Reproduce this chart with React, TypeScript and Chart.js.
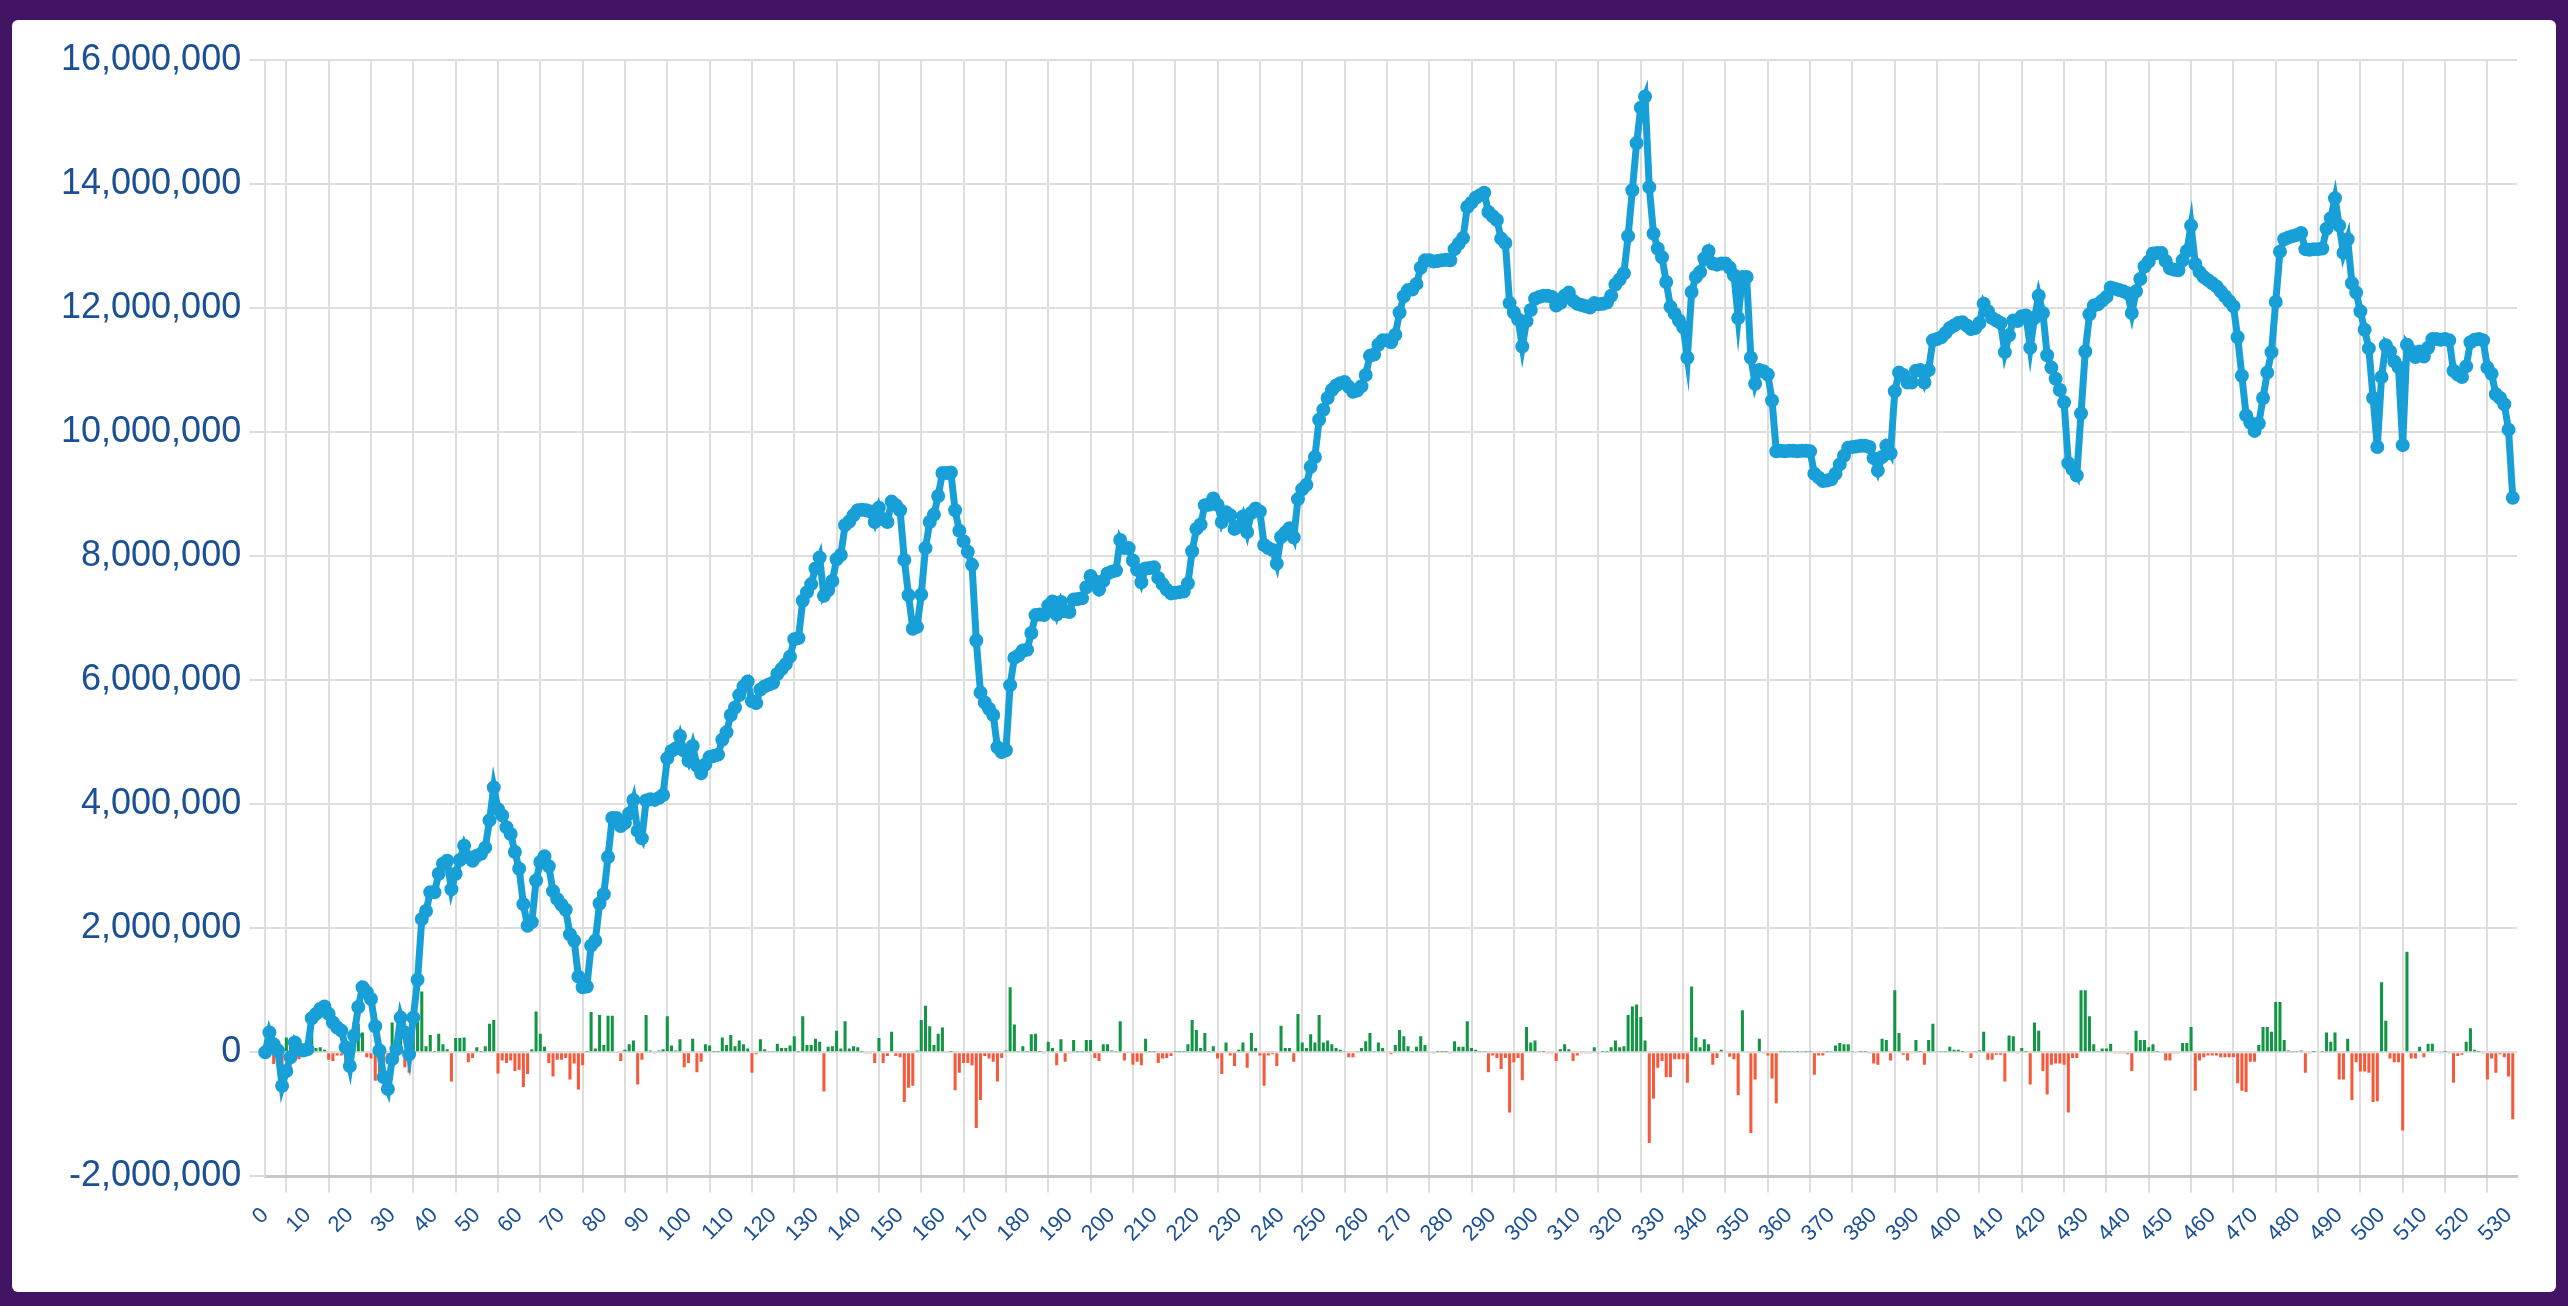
import { useEffect, useRef } from "react";
import { Chart, registerables } from "chart.js";

Chart.register(...registerables);

const PURPLE = "#421464";
const LINE_BLUE = "#189fd7";
const UP_GREEN = "#129646";
const DOWN_RED = "#f55a3c";
const TEXT_BLUE = "#1b5095";
const GRID = "#dedede";
const FONT = "'Liberation Sans', Arial, sans-serif";

// day index on the x axis (the last one has no data yet)
const days = Array.from({ length: 533 }, (_, i) => String(i));

// running balance
const balance = [
  0, 0.32e6, 0.13e6, 0.03e6, -0.54e6, -0.3e6, -0.08e6, 0.16e6, 0.05e6, 0.03e6,
  0.05e6, 0.55e6, 0.62e6, 0.7e6, 0.74e6, 0.62e6, 0.48e6, 0.4e6, 0.35e6, 0.08e6,
  -0.22e6, 0.27e6, 0.73e6, 1.05e6, 0.97e6, 0.86e6, 0.42e6, 0.03e6, -0.4e6, -0.59e6,
  -0.11e6, 0.05e6, 0.56e6, 0.32e6, -0.03e6, 0.56e6, 1.17e6, 2.15e6, 2.28e6, 2.58e6,
  2.58e6, 2.88e6, 3.04e6, 3.09e6, 2.63e6, 2.88e6, 3.1e6, 3.33e6, 3.15e6, 3.09e6,
  3.17e6, 3.2e6, 3.3e6, 3.74e6, 4.27e6, 3.92e6, 3.82e6, 3.63e6, 3.52e6, 3.23e6,
  2.96e6, 2.39e6, 2.04e6, 2.1e6, 2.77e6, 3.07e6, 3.16e6, 3.0e6, 2.6e6, 2.47e6,
  2.38e6, 2.3e6, 1.9e6, 1.8e6, 1.22e6, 1.05e6, 1.06e6, 1.72e6, 1.8e6, 2.4e6,
  2.55e6, 3.15e6, 3.78e6, 3.78e6, 3.65e6, 3.7e6, 3.85e6, 4.07e6, 3.57e6, 3.45e6,
  4.06e6, 4.08e6, 4.07e6, 4.1e6, 4.15e6, 4.74e6, 4.86e6, 4.9e6, 5.1e6, 4.86e6,
  4.7e6, 4.94e6, 4.62e6, 4.5e6, 4.64e6, 4.76e6, 4.78e6, 4.8e6, 5.04e6, 5.16e6,
  5.44e6, 5.56e6, 5.76e6, 5.9e6, 5.98e6, 5.66e6, 5.63e6, 5.85e6, 5.9e6, 5.93e6,
  5.96e6, 6.1e6, 6.18e6, 6.26e6, 6.38e6, 6.66e6, 6.68e6, 7.28e6, 7.42e6, 7.55e6,
  7.8e6, 7.98e6, 7.36e6, 7.45e6, 7.6e6, 7.95e6, 8.02e6, 8.5e6, 8.56e6, 8.66e6,
  8.74e6, 8.75e6, 8.74e6, 8.72e6, 8.55e6, 8.78e6, 8.6e6, 8.55e6, 8.88e6, 8.82e6,
  8.74e6, 7.94e6, 7.37e6, 6.83e6, 6.86e6, 7.38e6, 8.13e6, 8.55e6, 8.67e6, 8.97e6,
  9.34e6, 9.34e6, 9.35e6, 8.74e6, 8.41e6, 8.24e6, 8.07e6, 7.86e6, 6.64e6, 5.8e6,
  5.64e6, 5.54e6, 5.44e6, 4.92e6, 4.84e6, 4.87e6, 5.92e6, 6.36e6, 6.4e6, 6.48e6,
  6.49e6, 6.76e6, 7.05e6, 7.06e6, 7.05e6, 7.2e6, 7.27e6, 7.06e6, 7.26e6, 7.11e6,
  7.1e6, 7.3e6, 7.31e6, 7.32e6, 7.5e6, 7.68e6, 7.6e6, 7.46e6, 7.6e6, 7.72e6,
  7.75e6, 7.77e6, 8.26e6, 8.13e6, 8.13e6, 7.93e6, 7.78e6, 7.58e6, 7.8e6, 7.81e6,
  7.82e6, 7.65e6, 7.55e6, 7.46e6, 7.4e6, 7.41e6, 7.42e6, 7.43e6, 7.56e6, 8.08e6,
  8.44e6, 8.51e6, 8.82e6, 8.83e6, 8.93e6, 8.83e6, 8.55e6, 8.71e6, 8.66e6, 8.44e6,
  8.48e6, 8.64e6, 8.39e6, 8.7e6, 8.77e6, 8.72e6, 8.18e6, 8.13e6, 8.1e6, 7.88e6,
  8.31e6, 8.38e6, 8.45e6, 8.3e6, 8.92e6, 9.08e6, 9.15e6, 9.44e6, 9.6e6, 10.2e6,
  10.36e6, 10.55e6, 10.68e6, 10.75e6, 10.79e6, 10.81e6, 10.73e6, 10.65e6, 10.67e6, 10.74e6,
  10.92e6, 11.23e6, 11.25e6, 11.41e6, 11.48e6, 11.48e6, 11.45e6, 11.57e6, 11.93e6, 12.19e6,
  12.29e6, 12.3e6, 12.39e6, 12.65e6, 12.77e6, 12.77e6, 12.75e6, 12.76e6, 12.77e6, 12.78e6,
  12.77e6, 12.95e6, 13.04e6, 13.13e6, 13.63e6, 13.7e6, 13.78e6, 13.82e6, 13.86e6, 13.55e6,
  13.48e6, 13.42e6, 13.12e6, 13.05e6, 12.08e6, 11.93e6, 11.82e6, 11.38e6, 11.79e6, 11.97e6,
  12.15e6, 12.18e6, 12.2e6, 12.2e6, 12.18e6, 12.04e6, 12.08e6, 12.2e6, 12.25e6, 12.12e6,
  12.07e6, 12.05e6, 12.03e6, 12.01e6, 12.08e6, 12.06e6, 12.07e6, 12.09e6, 12.2e6, 12.38e6,
  12.46e6, 12.56e6, 13.16e6, 13.9e6, 14.66e6, 15.23e6, 15.41e6, 13.95e6, 13.2e6, 12.96e6,
  12.82e6, 12.42e6, 12.02e6, 11.91e6, 11.8e6, 11.69e6, 11.2e6, 12.26e6, 12.5e6, 12.58e6,
  12.8e6, 12.92e6, 12.72e6, 12.7e6, 12.72e6, 12.72e6, 12.65e6, 12.53e6, 11.84e6, 12.5e6,
  12.5e6, 11.2e6, 10.78e6, 11.0e6, 10.98e6, 10.93e6, 10.51e6, 9.69e6, 9.7e6, 9.69e6,
  9.7e6, 9.7e6, 9.69e6, 9.7e6, 9.7e6, 9.69e6, 9.33e6, 9.27e6, 9.21e6, 9.22e6,
  9.24e6, 9.33e6, 9.48e6, 9.62e6, 9.75e6, 9.76e6, 9.77e6, 9.78e6, 9.78e6, 9.76e6,
  9.58e6, 9.38e6, 9.6e6, 9.78e6, 9.66e6, 10.66e6, 10.96e6, 10.92e6, 10.8e6, 10.8e6,
  10.99e6, 11.0e6, 10.8e6, 11.0e6, 11.48e6, 11.5e6, 11.53e6, 11.6e6, 11.68e6, 11.72e6,
  11.76e6, 11.77e6, 11.72e6, 11.66e6, 11.68e6, 11.76e6, 12.07e6, 11.95e6, 11.84e6, 11.8e6,
  11.76e6, 11.29e6, 11.56e6, 11.8e6, 11.79e6, 11.87e6, 11.88e6, 11.36e6, 11.84e6, 12.2e6,
  11.92e6, 11.24e6, 11.04e6, 10.86e6, 10.68e6, 10.48e6, 9.5e6, 9.4e6, 9.3e6, 10.3e6,
  11.3e6, 11.9e6, 12.04e6, 12.06e6, 12.12e6, 12.18e6, 12.33e6, 12.31e6, 12.29e6, 12.27e6,
  12.24e6, 11.92e6, 12.27e6, 12.47e6, 12.67e6, 12.75e6, 12.88e6, 12.89e6, 12.89e6, 12.76e6,
  12.64e6, 12.62e6, 12.61e6, 12.77e6, 12.92e6, 13.33e6, 12.71e6, 12.58e6, 12.5e6, 12.45e6,
  12.4e6, 12.35e6, 12.27e6, 12.19e6, 12.11e6, 12.03e6, 11.53e6, 10.91e6, 10.27e6, 10.15e6,
  10.02e6, 10.14e6, 10.55e6, 10.96e6, 11.29e6, 12.1e6, 12.91e6, 13.11e6, 13.14e6, 13.16e6,
  13.18e6, 13.21e6, 12.95e6, 12.94e6, 12.95e6, 12.95e6, 12.96e6, 13.28e6, 13.45e6, 13.77e6,
  13.33e6, 12.89e6, 13.11e6, 12.4e6, 12.25e6, 11.95e6, 11.65e6, 11.35e6, 10.55e6, 9.76e6,
  10.89e6, 11.4e6, 11.3e6, 11.14e6, 11.05e6, 9.79e6, 11.41e6, 11.31e6, 11.21e6, 11.3e6,
  11.22e6, 11.36e6, 11.5e6, 11.5e6, 11.49e6, 11.5e6, 11.48e6, 10.99e6, 10.93e6, 10.89e6,
  11.06e6, 11.45e6, 11.49e6, 11.5e6, 11.48e6, 11.04e6, 10.94e6, 10.61e6, 10.55e6, 10.45e6,
  10.04e6, 8.94e6,
];

// change per day
const dailyChange = [
  0, 0.32e6, -0.19e6, -0.1e6, -0.57e6, 0.24e6, 0.22e6, 0.24e6, -0.11e6, -0.02e6,
  0.02e6, 0.5e6, 0.07e6, 0.08e6, 0.04e6, -0.12e6, -0.14e6, -0.05e6, -0.05e6, -0.27e6,
  -0.3e6, 0.49e6, 0.46e6, 0.32e6, -0.08e6, -0.1e6, -0.46e6, -0.43e6, -0.43e6, -0.19e6,
  0.48e6, 0.16e6, 0.51e6, -0.24e6, -0.33e6, 0.59e6, 0.61e6, 0.98e6, 0.1e6, 0.28e6,
  0.01e6, 0.3e6, 0.13e6, 0.05e6, -0.47e6, 0.23e6, 0.23e6, 0.24e6, -0.16e6, -0.09e6,
  0.08e6, 0.01e6, 0.1e6, 0.46e6, 0.52e6, -0.34e6, -0.13e6, -0.17e6, -0.13e6, -0.3e6,
  -0.28e6, -0.56e6, -0.35e6, 0.05e6, 0.66e6, 0.3e6, 0.09e6, -0.17e6, -0.39e6, -0.12e6,
  -0.12e6, -0.09e6, -0.44e6, -0.18e6, -0.6e6, -0.21e6, 0.01e6, 0.65e6, 0.06e6, 0.6e6,
  0.12e6, 0.59e6, 0.59e6, 0, -0.14e6, 0.04e6, 0.13e6, 0.19e6, -0.52e6, -0.12e6,
  0.6e6, 0.03e6, -0.02e6, 0.03e6, 0.05e6, 0.58e6, 0.11e6, 0.03e6, 0.21e6, -0.24e6,
  -0.17e6, 0.22e6, -0.32e6, -0.15e6, 0.13e6, 0.11e6, 0.01e6, 0.01e6, 0.24e6, 0.12e6,
  0.28e6, 0.1e6, 0.19e6, 0.13e6, 0.06e6, -0.33e6, -0.03e6, 0.21e6, 0.05e6, 0.02e6,
  0.02e6, 0.14e6, 0.07e6, 0.07e6, 0.11e6, 0.26e6, 0.01e6, 0.58e6, 0.12e6, 0.12e6,
  0.22e6, 0.17e6, -0.63e6, 0.09e6, 0.1e6, 0.35e6, 0.06e6, 0.5e6, 0.06e6, 0.1e6,
  0.08e6, 0.01e6, -0.01e6, -0.01e6, -0.17e6, 0.23e6, -0.17e6, -0.06e6, 0.33e6, -0.06e6,
  -0.08e6, -0.8e6, -0.57e6, -0.54e6, 0.03e6, 0.52e6, 0.75e6, 0.42e6, 0.12e6, 0.3e6,
  0.4e6, 0, 0.01e6, -0.61e6, -0.33e6, -0.17e6, -0.17e6, -0.21e6, -1.22e6, -0.77e6,
  -0.06e6, -0.1e6, -0.15e6, -0.47e6, -0.09e6, 0.03e6, 1.05e6, 0.45e6, 0.02e6, 0.1e6,
  0.01e6, 0.29e6, 0.3e6, 0.01e6, -0.01e6, 0.17e6, 0.07e6, -0.21e6, 0.21e6, -0.15e6,
  -0.01e6, 0.2e6, 0.01e6, 0.01e6, 0.2e6, 0.2e6, -0.09e6, -0.14e6, 0.13e6, 0.13e6,
  0.03e6, 0.02e6, 0.5e6, -0.13e6, 0, -0.2e6, -0.15e6, -0.21e6, 0.22e6, 0.01e6,
  0.01e6, -0.17e6, -0.1e6, -0.09e6, -0.06e6, 0.01e6, 0.01e6, 0.01e6, 0.13e6, 0.52e6,
  0.36e6, 0.07e6, 0.31e6, 0.01e6, 0.1e6, -0.1e6, -0.35e6, 0.16e6, -0.05e6, -0.22e6,
  0.04e6, 0.16e6, -0.25e6, 0.31e6, 0.07e6, -0.05e6, -0.54e6, -0.05e6, -0.03e6, -0.22e6,
  0.43e6, 0.07e6, 0.07e6, -0.15e6, 0.62e6, 0.16e6, 0.07e6, 0.29e6, 0.16e6, 0.6e6,
  0.16e6, 0.19e6, 0.13e6, 0.07e6, 0.04e6, 0.02e6, -0.08e6, -0.08e6, 0.02e6, 0.07e6,
  0.18e6, 0.31e6, 0.02e6, 0.16e6, 0.07e6, 0, -0.03e6, 0.12e6, 0.36e6, 0.26e6,
  0.1e6, 0.01e6, 0.09e6, 0.26e6, 0.12e6, 0, -0.02e6, 0.01e6, 0.01e6, 0.01e6,
  -0.01e6, 0.18e6, 0.09e6, 0.09e6, 0.5e6, 0.07e6, 0.04e6, 0.02e6, 0.02e6, -0.32e6,
  -0.05e6, -0.09e6, -0.27e6, -0.09e6, -0.97e6, -0.16e6, -0.09e6, -0.45e6, 0.41e6, 0.16e6,
  0.19e6, 0.02e6, 0.01e6, -0.01e6, -0.02e6, -0.14e6, 0.05e6, 0.13e6, 0.05e6, -0.14e6,
  -0.05e6, -0.02e6, -0.01e6, -0.02e6, 0.08e6, -0.02e6, 0.01e6, 0.01e6, 0.08e6, 0.19e6,
  0.08e6, 0.1e6, 0.6e6, 0.74e6, 0.77e6, 0.57e6, 0.19e6, -1.46e6, -0.75e6, -0.25e6,
  -0.14e6, -0.4e6, -0.4e6, -0.11e6, -0.11e6, -0.11e6, -0.49e6, 1.06e6, 0.24e6, 0.08e6,
  0.21e6, 0.13e6, -0.2e6, -0.09e6, 0.04e6, 0, -0.07e6, -0.11e6, -0.69e6, 0.68e6,
  0, -1.3e6, -0.44e6, 0.22e6, -0.01e6, -0.05e6, -0.42e6, -0.82e6, 0.01e6, 0.01e6,
  0.01e6, 0.02e6, 0.01e6, 0.02e6, 0.01e6, 0.01e6, -0.36e6, -0.05e6, -0.05e6, 0.01e6,
  0.02e6, 0.11e6, 0.15e6, 0.13e6, 0.13e6, 0.02e6, 0, 0.01e6, 0.01e6, -0.02e6,
  -0.18e6, -0.2e6, 0.22e6, 0.2e6, -0.13e6, 1.0e6, 0.31e6, -0.04e6, -0.13e6, -0.01e6,
  0.2e6, 0.01e6, -0.2e6, 0.2e6, 0.46e6, 0.02e6, 0.02e6, 0.02e6, 0.09e6, 0.04e6,
  0.04e6, 0.01e6, 0, -0.09e6, 0.02e6, 0.03e6, 0.33e6, -0.12e6, -0.12e6, -0.04e6,
  -0.04e6, -0.47e6, 0.27e6, 0.26e6, -0.01e6, 0.07e6, 0.01e6, -0.52e6, 0.48e6, 0.35e6,
  -0.3e6, -0.68e6, -0.2e6, -0.18e6, -0.18e6, -0.2e6, -0.97e6, -0.09e6, -0.09e6, 1.0e6,
  1.0e6, 0.58e6, 0.13e6, 0.02e6, 0.06e6, 0.06e6, 0.14e6, -0.02e6, -0.02e6, -0.02e6,
  -0.03e6, -0.3e6, 0.35e6, 0.2e6, 0.2e6, 0.08e6, 0.13e6, 0.01e6, 0, -0.13e6,
  -0.13e6, -0.02e6, -0.01e6, 0.15e6, 0.15e6, 0.41e6, -0.62e6, -0.13e6, -0.08e6, -0.05e6,
  -0.05e6, -0.05e6, -0.08e6, -0.08e6, -0.08e6, -0.08e6, -0.5e6, -0.62e6, -0.64e6, -0.15e6,
  -0.15e6, 0.12e6, 0.41e6, 0.41e6, 0.33e6, 0.81e6, 0.81e6, 0.2e6, 0.03e6, 0.02e6,
  0.02e6, 0.03e6, -0.33e6, -0.02e6, 0.01e6, 0, 0.01e6, 0.32e6, 0.17e6, 0.32e6,
  -0.44e6, -0.44e6, 0.22e6, -0.77e6, -0.16e6, -0.31e6, -0.31e6, -0.33e6, -0.8e6, -0.79e6,
  1.13e6, 0.51e6, -0.1e6, -0.16e6, -0.16e6, -1.26e6, 1.62e6, -0.1e6, -0.1e6, 0.09e6,
  -0.08e6, 0.14e6, 0.14e6, 0, -0.01e6, 0.01e6, -0.02e6, -0.49e6, -0.06e6, -0.04e6,
  0.17e6, 0.39e6, 0.04e6, 0.01e6, -0.02e6, -0.44e6, -0.1e6, -0.33e6, -0.03e6, -0.08e6,
  -0.39e6, -1.08e6,
];

const Y_MIN = -2000000;
const Y_MAX = 16000000;
const Y_STEP = 2000000;

const BalanceChart = () => {
  const chartRef = useRef<HTMLCanvasElement | null>(null);

  useEffect(() => {
    if (!chartRef.current) return;
    const ctx = chartRef.current.getContext("2d");
    if (!ctx) return;

    const chartInstance = new Chart(ctx, {
      type: "line",
      data: {
        labels: days,
        datasets: [
          {
            type: "line",
            data: balance,
            borderColor: LINE_BLUE,
            backgroundColor: LINE_BLUE,
            borderWidth: 7,
            pointRadius: 6,
            pointBorderWidth: 2,
            pointBackgroundColor: LINE_BLUE,
            pointBorderColor: LINE_BLUE,
            tension: 0,
            fill: false,
            order: 0,
          },
          {
            type: "bar",
            data: dailyChange,
            backgroundColor: (c: any) => ((c.raw as number) >= 0 ? UP_GREEN : DOWN_RED),
            order: 1,
          },
        ],
      },
      options: {
        animation: false,
        responsive: true,
        maintainAspectRatio: false,
        layout: { padding: { left: 41, top: 40, right: 39, bottom: 35 } },
        plugins: {
          legend: { display: false },
          tooltip: { enabled: false },
        },
        scales: {
          x: {
            type: "category",
            offset: false,
            grid: { offset: true, color: GRID, lineWidth: 2, tickLength: 16 },
            border: { color: "#c8c8c8", width: 3 },
            ticks: {
              autoSkip: true,
              autoSkipPadding: 0,
              // 58 keeps every 10th label and still draws every grid line
              maxTicksLimit: 58,
              minRotation: 45,
              maxRotation: 45,
              padding: 10,
              color: TEXT_BLUE,
              font: { family: FONT, size: 22 },
            },
          },
          y: {
            min: Y_MIN,
            max: Y_MAX,
            grid: { color: GRID, lineWidth: 2, tickLength: 16 },
            border: { color: GRID, width: 2 },
            ticks: {
              stepSize: Y_STEP,
              padding: 8,
              color: TEXT_BLUE,
              font: { family: FONT, size: 36 },
            },
          },
        },
      },
    });

    return () => {
      chartInstance.destroy();
    };
  }, []);

  return (
    <div style={{ position: "fixed", inset: 0, background: PURPLE }}>
      <div
        style={{
          position: "absolute",
          left: 12,
          top: 20,
          width: 2544,
          height: 1272,
          background: "#ffffff",
          borderRadius: 6,
        }}
      >
        <div style={{ position: "relative", width: "100%", height: "100%" }}>
          <canvas ref={chartRef} />
        </div>
      </div>
    </div>
  );
};

export default function App() {
  return <BalanceChart />;
}
